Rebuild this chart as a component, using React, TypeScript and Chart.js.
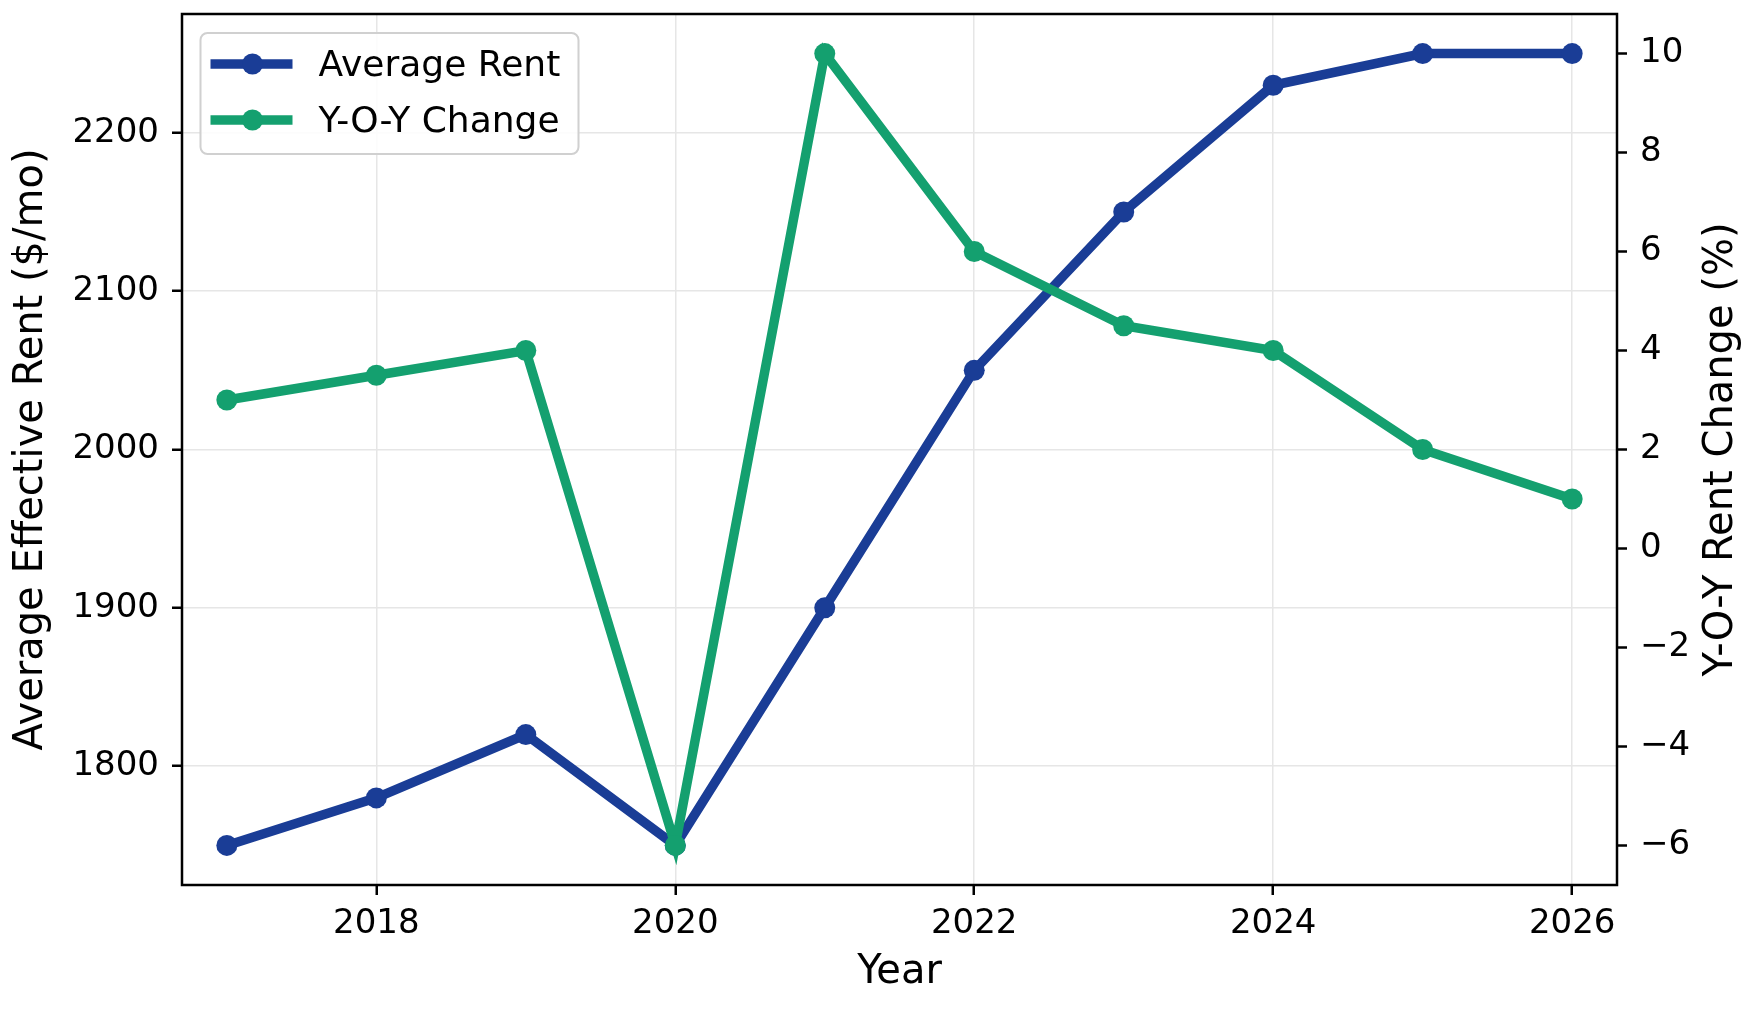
import { useEffect, useRef } from 'react';
import { Chart, registerables } from 'chart.js';

Chart.register(...registerables);

const years = [2017, 2018, 2019, 2020, 2021, 2022, 2023, 2024, 2025, 2026];
const avgRent = [1750, 1780, 1820, 1750, 1900, 2050, 2150, 2230, 2250, 2250];
const yoyChange = [3, 3.5, 4, -6, 10, 6, 4.5, 4, 2, 1];

const xTicks = [2018, 2020, 2022, 2024, 2026];
const rentTicks = [1800, 1900, 2000, 2100, 2200];
const yoyTicks = [-6, -4, -2, 0, 2, 4, 6, 8, 10];

const BLUE = '#1a3d96';
const GREEN = '#14a06f';
const FONT = "'DejaVu Sans', sans-serif";
const GRID = '#e6e6e6';

// scales would otherwise reserve room for half a tick label at each end
const noPad = (s: any) => {
  s.paddingTop = 0;
  s.paddingBottom = 0;
  s.paddingLeft = 0;
  s.paddingRight = 0;
};

// frame, right-hand title and legend drawn by hand (matplotlib look)
const decorPlugin = {
  id: 'decor',
  afterDatasetsDraw(chart: any) {
    const { ctx, chartArea: a } = chart;
    ctx.save();
    ctx.strokeStyle = '#000';
    ctx.lineWidth = 2.5;
    ctx.strokeRect(a.left, a.top, a.right - a.left, a.bottom - a.top);
    ctx.restore();
  },
  afterDraw(chart: any) {
    const { ctx, chartArea: a } = chart;
    ctx.save();
    // right axis title, reading bottom to top
    ctx.translate(1722, (a.top + a.bottom) / 2);
    ctx.rotate(-Math.PI / 2);
    ctx.font = `40px ${FONT}`;
    ctx.fillStyle = '#000';
    ctx.textAlign = 'center';
    ctx.textBaseline = 'middle';
    ctx.fillText('Y-O-Y Rent Change (%)', 0, 0);
    ctx.restore();

    // legend
    const lx = a.left + 18.5;
    const ly = a.top + 19;
    const lw = 378;
    const lh = 121;
    ctx.save();
    ctx.beginPath();
    ctx.roundRect(lx, ly, lw, lh, 7);
    ctx.fillStyle = 'rgba(255,255,255,0.85)';
    ctx.fill();
    ctx.strokeStyle = '#d0d0d0';
    ctx.lineWidth = 2;
    ctx.stroke();
    chart.data.datasets.forEach((ds: any, i: number) => {
      const y = ly + 31 + i * 56;
      ctx.strokeStyle = ds.borderColor;
      ctx.lineWidth = 9.5;
      ctx.beginPath();
      ctx.moveTo(lx + 10, y);
      ctx.lineTo(lx + 92, y);
      ctx.stroke();
      ctx.fillStyle = ds.borderColor;
      ctx.beginPath();
      ctx.arc(lx + 52, y, 10.5, 0, Math.PI * 2);
      ctx.fill();
      ctx.fillStyle = '#000';
      ctx.font = `36px ${FONT}`;
      ctx.textAlign = 'left';
      ctx.textBaseline = 'middle';
      ctx.fillText(ds.label, lx + 118, y + 3);
    });
    ctx.restore();
  },
};

const RentChart = () => {
  const canvasRef = useRef<HTMLCanvasElement | null>(null);

  useEffect(() => {
    document.body.style.margin = '0';
    if (!canvasRef.current) return;
    const chart = new Chart(canvasRef.current, {
      type: 'line',
      data: {
        datasets: [
          {
            label: 'Average Rent',
            data: years.map((yr, i) => ({ x: yr, y: avgRent[i] })),
            yAxisID: 'y',
            borderColor: BLUE,
            backgroundColor: BLUE,
            borderWidth: 9.5,
            pointRadius: 10.5,
            pointBorderWidth: 0,
            pointBackgroundColor: BLUE,
            tension: 0,
            order: 2,
          },
          {
            label: 'Y-O-Y Change',
            data: years.map((yr, i) => ({ x: yr, y: yoyChange[i] })),
            yAxisID: 'y1',
            borderColor: GREEN,
            backgroundColor: GREEN,
            borderWidth: 9.5,
            pointRadius: 10.5,
            pointBorderWidth: 0,
            pointBackgroundColor: GREEN,
            tension: 0,
            order: 1,
          },
        ],
      },
      options: {
        animation: false,
        responsive: false,
        devicePixelRatio: 1,
        layout: { padding: { top: 14, left: 0, right: 0, bottom: 0 } },
        plugins: { legend: { display: false }, tooltip: { enabled: false } },
        scales: {
          x: {
            type: 'linear',
            min: 2016.7,
            max: 2026.3,
            bounds: 'data',
            afterBuildTicks: (s: any) => { s.ticks = xTicks.map((v) => ({ value: v })); },
            afterFit: (s: any) => { s.height = 126; noPad(s); },
            grid: { color: GRID, lineWidth: 1.5, tickColor: '#000', tickWidth: 2.5, tickLength: 10 },
            border: { display: false },
            ticks: {
              color: '#000',
              font: { family: FONT, size: 34 },
              padding: 9,
              maxRotation: 0,
              callback: (v: any) => String(v),
            },
            title: {
              display: true,
              text: 'Year',
              color: '#000',
              font: { family: FONT, size: 40 },
              padding: { top: 0, bottom: 14 },
            },
          },
          y: {
            type: 'linear',
            position: 'left',
            min: 1725,
            max: 2275,
            bounds: 'data',
            afterBuildTicks: (s: any) => { s.ticks = rentTicks.map((v) => ({ value: v })); },
            afterFit: (s: any) => { s.width = 182; noPad(s); },
            grid: { color: GRID, lineWidth: 1.5, tickColor: '#000', tickWidth: 2.5, tickLength: 10 },
            border: { display: false },
            ticks: {
              color: '#000',
              font: { family: FONT, size: 34 },
              padding: 13,
              callback: (v: any) => String(v),
            },
            title: {
              display: true,
              text: 'Average Effective Rent ($/mo)',
              color: '#000',
              font: { family: FONT, size: 40 },
              padding: { top: 8, bottom: 0 },
            },
          },
          y1: {
            type: 'linear',
            position: 'right',
            min: -6.8,
            max: 10.8,
            bounds: 'data',
            afterBuildTicks: (s: any) => { s.ticks = yoyTicks.map((v) => ({ value: v })); },
            afterFit: (s: any) => { s.width = 143; noPad(s); },
            grid: { drawOnChartArea: false, tickColor: '#000', tickWidth: 2.5, tickLength: 10 },
            border: { display: false },
            ticks: {
              color: '#000',
              font: { family: FONT, size: 34 },
              padding: 13,
              callback: (v: any) => String(v).replace('-', '\u2212'),
            },
          },
        },
      },
      plugins: [decorPlugin],
    });
    return () => chart.destroy();
  }, []);

  return <canvas ref={canvasRef} width={1760} height={1011} style={{ display: 'block' }} />;
};

export default function App() {
  return <RentChart />;
}
